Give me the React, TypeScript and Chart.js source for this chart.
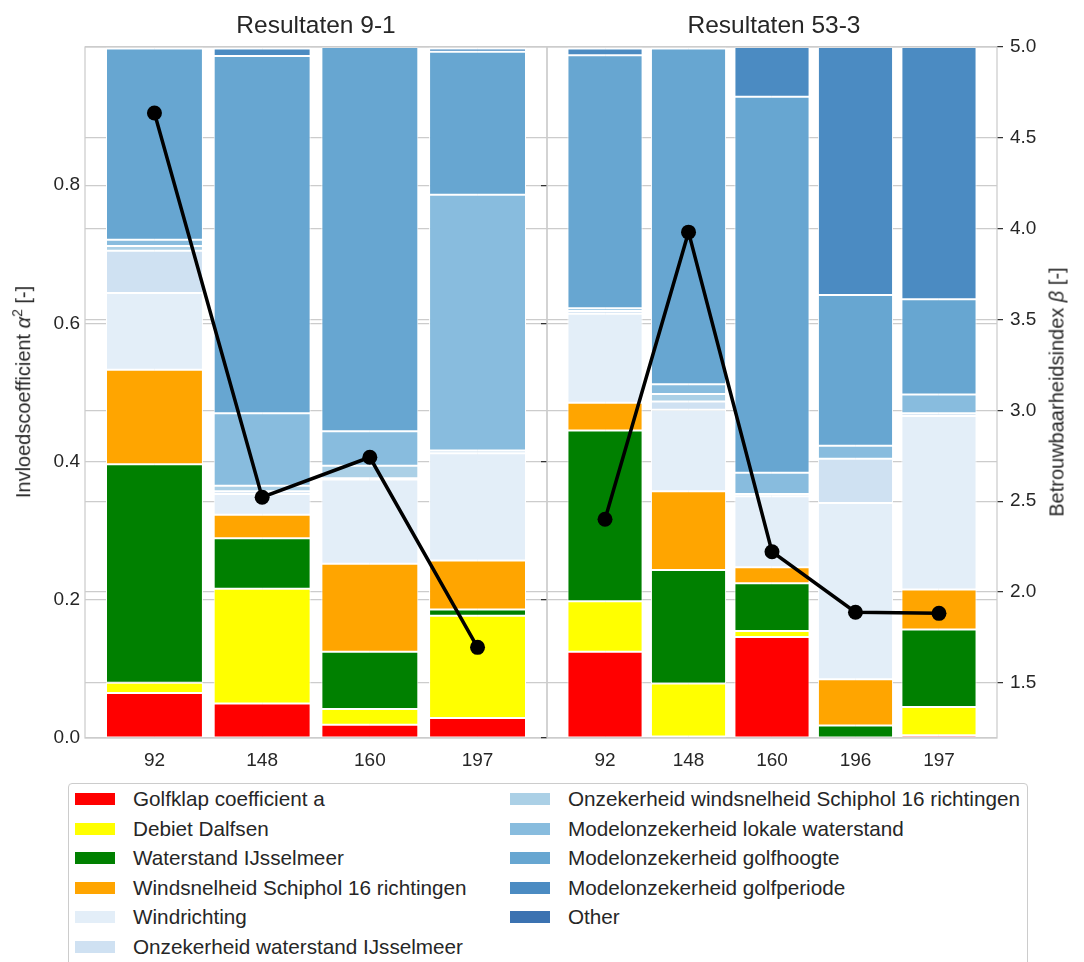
import React, { useEffect, useRef } from 'react';
import { Chart, registerables } from 'chart.js';

Chart.register(...registerables);

// ---------- Data ----------
const categories91 = ['92', '148', '160', '197'];
const categories533 = ['92', '148', '160', '196', '197'];

const seriesNames = [
  'Golfklap coefficient a',
  'Debiet Dalfsen',
  'Waterstand IJsselmeer',
  'Windsnelheid Schiphol 16 richtingen',
  'Windrichting',
  'Onzekerheid waterstand IJsselmeer',
  'Onzekerheid windsnelheid Schiphol 16 richtingen',
  'Modelonzekerheid lokale waterstand',
  'Modelonzekerheid golfhoogte',
  'Modelonzekerheid golfperiode',
  'Other',
];

const seriesColors = [
  '#ff0000',
  '#ffff00',
  '#008000',
  '#ffa500',
  '#e3eef8',
  '#cfe1f2',
  '#abd0e6',
  '#88bcde',
  '#67a6d1',
  '#4b8bc2',
  '#3b72b1',
];

// Resultaten 9-1
const golfklap91 = [0.065, 0.05, 0.019, 0.029];
const debiet91 = [0.015, 0.166, 0.023, 0.148];
const waterstand91 = [0.316, 0.073, 0.083, 0.009];
const windsnelheid91 = [0.137, 0.034, 0.127, 0.071];
const windrichting91 = [0.111, 0.03, 0.122, 0.155];
const onzWaterstand91 = [0.061, 0.004, 0.002, 0.004];
const onzWindsnelheid91 = [0.007, 0.008, 0.018, 0.0];
const modLokaal91 = [0.009, 0.105, 0.05, 0.37];
const modGolfhoogte91 = [0.277, 0.517, 0.556, 0.207];
const modGolfperiode91 = [0.0, 0.011, 0.0, 0.005];
const other91 = [0.002, 0.002, 0.0, 0.002];
const beta91 = [4.637, 2.522, 2.742, 1.696];

// Resultaten 53-3
const golfklap533 = [0.125, 0.002, 0.146, 0.0, 0.004];
const debiet533 = [0.073, 0.077, 0.009, 0.0, 0.041];
const waterstand533 = [0.247, 0.164, 0.069, 0.018, 0.112];
const windsnelheid533 = [0.04, 0.114, 0.023, 0.067, 0.058];
const windrichting533 = [0.129, 0.118, 0.103, 0.255, 0.251];
const onzWaterstand533 = [0.004, 0.012, 0.003, 0.064, 0.004];
const onzWindsnelheid533 = [0.0, 0.011, 0.0, 0.0, 0.0];
const modLokaal533 = [0.004, 0.014, 0.031, 0.019, 0.027];
const modGolfhoogte533 = [0.366, 0.486, 0.544, 0.218, 0.138];
const modGolfperiode533 = [0.01, 0.0, 0.072, 0.359, 0.365];
const other533 = [0.002, 0.002, 0.0, 0.0, 0.0];
const beta533 = [2.401, 3.981, 2.222, 1.889, 1.883];

const leftTicks = [0, 0.2, 0.4, 0.6, 0.8];
const rightTicks = [1.5, 2.0, 2.5, 3.0, 3.5, 4.0, 4.5, 5.0];

const series91 = [
  golfklap91, debiet91, waterstand91, windsnelheid91, windrichting91, onzWaterstand91,
  onzWindsnelheid91, modLokaal91, modGolfhoogte91, modGolfperiode91, other91,
];
const series533 = [
  golfklap533, debiet533, waterstand533, windsnelheid533, windrichting533, onzWaterstand533,
  onzWindsnelheid533, modLokaal533, modGolfhoogte533, modGolfperiode533, other533,
];

// ---------- Styling ----------
const FONT = '"Liberation Sans", Arial, sans-serif';
const TEXT = '#262626';
const GRID = '#cccccc';

const framePlugin = {
  id: 'frame',
  afterDraw(chart: any) {
    const { ctx, chartArea } = chart;
    const { left, top, right, bottom } = chartArea;
    ctx.save();
    ctx.strokeStyle = GRID;
    ctx.lineWidth = 1.25;
    ctx.strokeRect(left, top, right - left, bottom - top);
    ctx.restore();
  },
};

interface PanelOpts {
  xMin: number;
  xMax: number;
  leftWidth: number;
  rightWidth: number;
  leftTickMarks: boolean;
  showRightLabels: boolean;
}

function makePanel(
  canvas: HTMLCanvasElement,
  cats: string[],
  series: number[][],
  beta: number[],
  o: PanelOpts
) {
  const datasets: any[] = series.map((vals, si) => ({
    type: 'bar',
    label: seriesNames[si],
    data: vals.map((v, i) => ({ x: i, y: v })),
    backgroundColor: seriesColors[si],
    borderColor: '#ffffff',
    borderWidth: 1,
    borderSkipped: false,
    yAxisID: 'y',
    xAxisID: 'x',
    barPercentage: 0.9,
    categoryPercentage: 1.0,
    order: 2,
  }));
  datasets.push({
    type: 'line',
    label: 'beta',
    data: beta.map((v, i) => ({ x: i, y: v })),
    borderColor: '#000000',
    backgroundColor: '#000000',
    borderWidth: 3.5,
    pointRadius: 7.5,
    pointBackgroundColor: '#000000',
    pointBorderWidth: 0,
    yAxisID: 'y1',
    xAxisID: 'x',
    order: 0,
  });

  return new Chart(canvas, {
    type: 'bar',
    data: { datasets },
    plugins: [framePlugin],
    options: {
      responsive: false,
      animation: false,
      devicePixelRatio: 1,
      layout: { autoPadding: false, padding: { top: 47, left: 0, right: 0, bottom: 0 } },
      plugins: {
        legend: { display: false },
        tooltip: { enabled: false },
        title: { display: false },
      },
      scales: {
        x: {
          type: 'linear',
          position: 'bottom',
          stacked: true,
          offset: false,
          min: o.xMin,
          max: o.xMax,
          z: 1,
          afterBuildTicks: (scale: any) => {
            scale.ticks = cats.map((_, i) => ({ value: i }));
          },
          afterFit: (scale: any) => {
            scale.height = 42;
            scale.paddingLeft = 0;
            scale.paddingRight = 0;
          },
          ticks: {
            font: { family: FONT, size: 19 },
            color: TEXT,
            padding: 11,
            autoSkip: false,
            maxRotation: 0,
            callback: (v: any) => cats[Math.round(Number(v))] ?? '',
          },
          grid: { color: 'rgba(30,60,90,0.07)', drawTicks: false, lineWidth: 1, offset: false },
          border: { display: false },
        },
        y: {
          type: 'linear',
          position: 'left',
          stacked: true,
          min: 0,
          max: 1.0,
          afterBuildTicks: (scale: any) => {
            scale.ticks = leftTicks.map((v) => ({ value: v }));
          },
          afterFit: (scale: any) => {
            scale.width = o.leftWidth;
          },
          ticks: {
            display: !o.leftTickMarks,
            font: { family: FONT, size: 19 },
            color: TEXT,
            padding: 5,
            callback: (v: any) => Number(v).toFixed(1),
          },
          grid: {
            color: GRID,
            lineWidth: 1.25,
            drawTicks: o.leftTickMarks,
            tickLength: 6,
            tickColor: '#333333',
          },
          border: { display: false },
        },
        y1: {
          type: 'linear',
          position: 'right',
          min: 1.197,
          max: 5.0,
          z: 1,
          afterBuildTicks: (scale: any) => {
            scale.ticks = rightTicks.map((v) => ({ value: v }));
          },
          afterFit: (scale: any) => {
            scale.width = o.rightWidth;
          },
          ticks: {
            display: o.showRightLabels,
            font: { family: FONT, size: 19 },
            color: TEXT,
            padding: 7,
            callback: (v: any) => Number(v).toFixed(1),
          },
          grid: {
            color: GRID,
            lineWidth: 1.25,
            drawTicks: o.showRightLabels,
            tickLength: 6,
            tickColor: '#333333',
          },
          border: { display: false },
        },
      },
    } as any,
  });
}

const textStyle: React.CSSProperties = {
  position: 'absolute',
  fontFamily: FONT,
  color: TEXT,
  whiteSpace: 'nowrap',
};

export default function App() {
  const ref1 = useRef<HTMLCanvasElement>(null);
  const ref2 = useRef<HTMLCanvasElement>(null);

  useEffect(() => {
    const c1 = makePanel(ref1.current!, categories91, series91, beta91, {
      xMin: -0.645,
      xMax: 3.645,
      leftWidth: 85,
      rightWidth: 1,
      leftTickMarks: false,
      showRightLabels: false,
    });
    const c2 = makePanel(ref2.current!, categories533, series533, beta533, {
      xMin: -0.695,
      xMax: 4.695,
      leftWidth: 17,
      rightWidth: 87,
      leftTickMarks: true,
      showRightLabels: true,
    });
    return () => {
      c1.destroy();
      c2.destroy();
    };
  }, []);

  const legendLeft = 68;
  const legendTop = 783;
  const rowY = (r: number) => 799 + 29.5 * r;
  const legendItems = seriesNames.map((name, i) => {
    const col = i < 6 ? 0 : 1;
    const row = i < 6 ? i : i - 6;
    const swatchX = col === 0 ? 75 : 510;
    return (
      <div
        key={name}
        style={{
          position: 'absolute',
          left: swatchX - legendLeft - 1,
          top: rowY(row) - legendTop - 1 - 12,
          height: 24,
          display: 'flex',
          alignItems: 'center',
          whiteSpace: 'nowrap',
        }}
      >
        <span
          style={{
            display: 'inline-block',
            width: 40,
            height: 12,
            background: seriesColors[i],
          }}
        />
        <span style={{ marginLeft: 18, fontSize: 20.7, fontFamily: FONT, color: TEXT }}>{name}</span>
      </div>
    );
  });

  return (
    <div
      style={{
        position: 'fixed',
        left: 0,
        top: 0,
        width: 1084,
        height: 962,
        background: '#ffffff',
        overflow: 'hidden',
      }}
    >
      <canvas
        ref={ref1}
        width={548}
        height={780}
        style={{ position: 'absolute', left: 0, top: 0, width: 548, height: 780 }}
      />
      <canvas
        ref={ref2}
        width={554}
        height={780}
        style={{ position: 'absolute', left: 530, top: 0, width: 554, height: 780 }}
      />
      <div style={{ ...textStyle, left: 316, top: 25, fontSize: 24.5, transform: 'translate(-50%, -50%)' }}>
        Resultaten 9-1
      </div>
      <div style={{ ...textStyle, left: 774, top: 25, fontSize: 24.5, transform: 'translate(-50%, -50%)' }}>
        Resultaten 53-3
      </div>
      <div
        style={{
          ...textStyle,
          left: 22,
          top: 392,
          fontSize: 20,
          transform: 'translate(-50%, -50%) rotate(-90deg)',
        }}
      >
        Invloedscoefficient <i>α</i>
        <sup style={{ fontSize: 14 }}>2</sup> [-]
      </div>
      <div
        style={{
          ...textStyle,
          left: 1057,
          top: 392,
          fontSize: 20,
          transform: 'translate(-50%, -50%) rotate(-90deg)',
        }}
      >
        Betrouwbaarheidsindex <i>β</i> [-]
      </div>
      <div
        style={{
          position: 'absolute',
          left: legendLeft,
          top: legendTop,
          width: 1028 - legendLeft,
          height: 220,
          border: '1px solid #cccccc',
          borderRadius: 4,
          background: '#ffffff',
          boxSizing: 'border-box',
        }}
      >
        {legendItems}
      </div>
    </div>
  );
}
